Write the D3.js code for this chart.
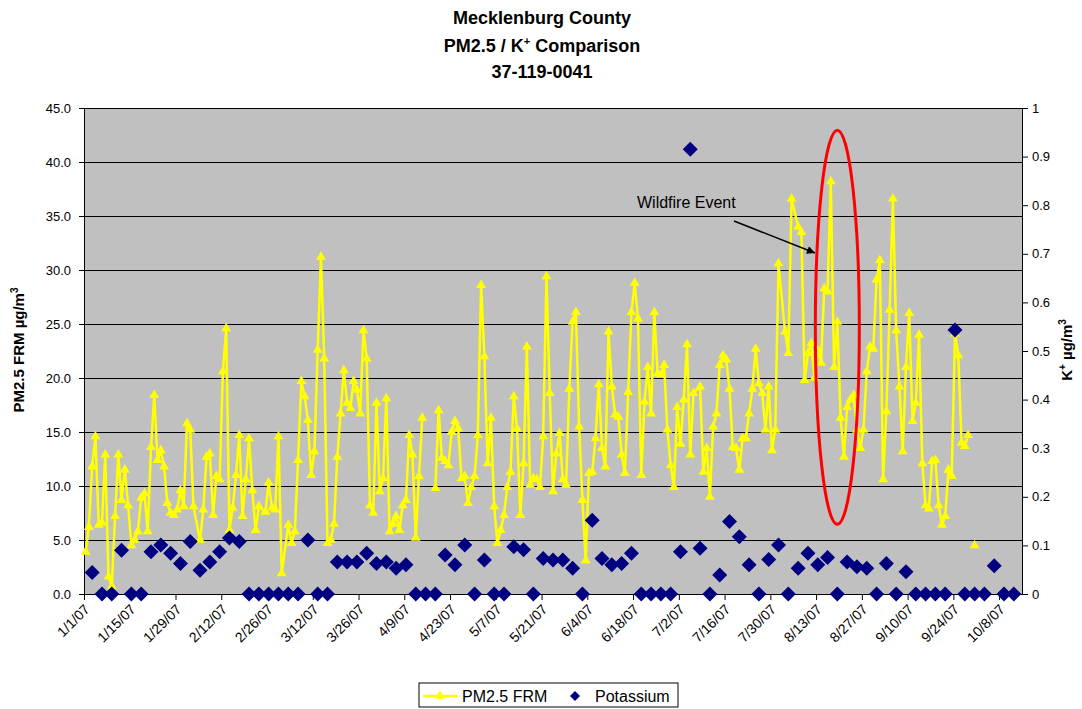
<!DOCTYPE html>
<html>
<head>
<meta charset="utf-8">
<script src="https://cdn.jsdelivr.net/npm/d3@7"></script>
<style>
  body { margin: 0; background: #fff; }
  svg text { font-family: Arial, "Liberation Sans", sans-serif; fill: #000; }
</style>
</head>
<body>
<div id="chart"></div>
<script>
// PM2.5 FRM daily values, day = days after 1/1/07 (null = blank cell, line breaks)
var pmDay = [0,1,2,3,4,5,6,7,8,9,10,11,12,13,14,15,16,17,18,19,20,21,22,23,24,25,26,27,28,29,
    30,31,32,33,35,36,37,38,39,40,41,42,43,44,45,46,47,48,49,50,51,52,53,55,56,57,58,59,60,
    62,63,64,65,66,67,68,69,70,71,72,73,74,75,76,77,78,79,80,81,82,83,84,85,86,87,88,89,90,
    91,92,93,94,95,96,97,98,99,100,101,102,103,104,107,108,109,110,111,112,113,114,115,116,
    117,118,119,120,121,122,123,124,125,126,127,128,129,130,131,132,133,134,135,136,137,138,
    139,140,141,142,143,144,145,146,147,148,149,150,151,152,153,154,155,156,157,158,159,160,
    161,162,163,164,165,166,167,168,169,170,171,172,173,174,175,176,177,178,179,180,181,182,
    183,184,185,186,188,189,190,191,192,193,194,195,196,197,198,199,200,201,202,203,204,205,
    206,207,208,209,210,211,212,214,215,216,218,219,220,221,222,223,224,225,226,227,228,229,
    230,231,232,233,234,235,236,237,238,239,240,241,242,243,244,245,246,247,248,249,250,251,
    252,253,254,255,256,257,258,259,260,261,262,263,264,265,266,267,268,269,270,271,272];
var pmValue = [3.9,6.2,11.8,14.6,6.4,6.6,12.9,1.6,0.7,7.2,12.9,8.7,11.5,8.2,4.5,5.0,5.8,8.9,9.3,5.8,
    13.6,18.4,12.4,13.3,11.8,8.4,7.5,7.3,7.8,9.6,8.1,15.8,15.2,8.1,5.0,7.8,12.7,13.0,7.3,10.9,
    10.6,20.6,24.6,5.9,8.0,11.0,14.7,7.2,10.6,14.4,9.6,5.9,8.1,7.6,10.3,8.0,7.8,14.6,1.9,
    6.4,4.7,5.8,12.4,19.7,18.3,16.1,11.0,13.2,22.6,31.2,21.8,4.7,5.0,6.5,12.7,16.7,20.7,17.7,
    17.2,19.7,18.9,16.7,24.4,21.8,8.2,7.5,17.7,9.5,10.7,18.1,5.8,6.5,7.2,5.9,8.2,8.7,14.7,12.9,
    5.2,10.9,16.3,null,9.8,17.0,12.6,12.3,11.9,15.0,16.0,15.3,10.7,10.9,8.4,9.9,10.9,14.7,28.6,
    22.0,12.1,16.3,8.1,4.7,5.9,7.3,9.9,11.3,18.3,15.3,7.3,12.1,22.9,10.1,10.7,10.6,9.9,14.6,29.4,
    18.6,9.5,13.0,14.9,10.6,10.1,19.0,25.2,26.1,15.5,8.7,3.1,11.2,11.3,14.4,19.4,13.5,11.8,24.3,
    19.2,16.6,16.4,12.9,11.2,18.7,26.1,28.8,25.5,11.0,17.8,21.0,16.7,26.1,20.4,20.3,21.2,15.2,
    11.9,9.9,17.3,13.9,18.0,23.1,12.9,18.6,19.2,11.3,13.5,9.0,15.5,16.7,21.2,22.1,21.7,19.0,13.6,
    13.5,11.5,14.4,14.4,16.7,19.0,22.7,19.5,18.6,15.2,19.2,13.3,15.2,30.6,24.3,22.3,36.6,34.0,
    33.5,19.8,22.3,23.2,20.0,22.6,21.4,28.3,28.0,38.2,21.0,25.2,16.3,12.7,17.3,18.0,18.4,15.2,
    13.5,15.2,20.6,22.9,22.7,29.1,30.9,10.6,16.9,26.3,36.6,24.4,19.2,13.2,21.0,26.0,16.0,17.7,
    24.0,12.1,8.2,7.9,12.3,12.4,8.2,6.4,7.2,11.5,10.9,24.1,22.1,14.0,13.7,14.7,null,4.5];

// Potassium (1-in-3 day samples starting 1/3/07)
var kFirstDay = 2, kStep = 3;
var kValue = [0.044,0,0,0.090,0,0,0.087,0.101,0.084,0.063,0.108,0.049,0.066,0.087,0.115,0.108,
    0,0,0,0,0,0,0.111,0,0,0.066,0.066,0.066,0.084,0.063,0.066,0.053,0.060,0,0,0,0.080,0.060,
    0.101,0,0.070,0,0,0.097,0.091,0,0.073,0.070,0.070,0.053,0,0.152,0.073,0.060,0.063,0.084,
    0,0,0,0,0.087,0.915,0.094,0,0.039,0.149,0.118,0.060,0,0.071,0.101,0,0.053,0.084,0.060,
    0.075,0,0.066,0.056,0.053,0,0.063,0,0.046,0,0,0,0,0.543,0,0,0,0.058,0,0];

var xTickLabels = ["1/1/07","1/15/07","1/29/07","2/12/07","2/26/07","3/12/07","3/26/07","4/9/07",
    "4/23/07","5/7/07","5/21/07","6/4/07","6/18/07","7/2/07","7/16/07","7/30/07","8/13/07",
    "8/27/07","9/10/07","9/24/07","10/8/07"];
var leftTicks = [0,5,10,15,20,25,30,35,40,45];
var rightTicks = [0,0.1,0.2,0.3,0.4,0.5,0.6,0.7,0.8,0.9,1];

// Size settings
var W = 1082, H = 709;
var margin = { top: 108, left: 84 };
var plotW = 938, plotH = 486;

var start = Date.UTC(2007, 0, 1);
function dayDate(d) { return new Date(start + d * 864e5); }
var parseTick = d3.utcParse("%m/%d/%y");

var x = d3.scaleUtc().domain([dayDate(0), dayDate(287)]).range([0, plotW]);
function xMid(d) { return x(dayDate(d + 0.5)); }
var yL = d3.scaleLinear().domain([0, 45]).range([plotH, 0]);
var yR = d3.scaleLinear().domain([0, 1]).range([plotH, 0]);

var pmPts = pmDay.map(function(d, i) { return { day: d, v: pmValue[i] }; });
var kPts = kValue.map(function(v, i) { return { day: kFirstDay + i * kStep, v: v }; });

var svg = d3.select("#chart").append("svg")
    .attr("width", W).attr("height", H);

// Titles
var title = svg.append("g").attr("font-weight", "bold").attr("font-size", "18px")
    .attr("text-anchor", "middle");
title.append("text").attr("x", 542).attr("y", 24).text("Mecklenburg County");
var t2 = title.append("text").attr("x", 542).attr("y", 52);
t2.append("tspan").text("PM2.5 / K");
t2.append("tspan").attr("dy", -7).attr("font-size", "11px").text("+");
t2.append("tspan").attr("dy", 7).text(" Comparison");
title.append("text").attr("x", 542).attr("y", 78).text("37-119-0041");

var g = svg.append("g").attr("transform", "translate(" + margin.left + "," + margin.top + ")");

// Plot area + gridlines
g.append("rect").attr("width", plotW).attr("height", plotH).attr("fill", "#C0C0C0");
g.selectAll(".grid").data(leftTicks.filter(function(d) { return d > 0; }))
  .enter().append("line")
    .attr("x1", 0).attr("x2", plotW)
    .attr("y1", function(d) { return Math.round(yL(d)) + 0.5; })
    .attr("y2", function(d) { return Math.round(yL(d)) + 0.5; })
    .attr("stroke", "#000").attr("stroke-width", 1);

// X axis
var xAxisG = g.append("g").attr("transform", "translate(0," + plotH + ")")
    .call(d3.axisBottom(x)
        .tickValues(xTickLabels.map(function(s) { return parseTick(s); }))
        .tickFormat(function(d, i) { return xTickLabels[i]; })
        .tickSize(6).tickSizeOuter(0));
xAxisG.selectAll("text")
    .attr("x", 0).attr("y", 0).attr("dy", "0.72em")
    .attr("transform", "translate(-1,9) rotate(-45)")
    .style("text-anchor", "end").attr("font-size", "14px");

// Left axis
var yAxisL = g.append("g")
    .call(d3.axisLeft(yL).tickValues(leftTicks).tickFormat(d3.format(".1f"))
        .tickSize(5).tickPadding(8).tickSizeOuter(0));
yAxisL.selectAll("text").attr("font-size", "13px");

// Right axis
var yAxisR = g.append("g").attr("transform", "translate(" + plotW + ",0)")
    .call(d3.axisRight(yR).tickValues(rightTicks).tickFormat(function(d) { return String(+d.toFixed(1)); })
        .tickSize(6).tickPadding(4).tickSizeOuter(0));
yAxisR.selectAll("text").attr("font-size", "13px");

svg.selectAll(".domain, .tick line").attr("stroke", "#000");

// Axis titles
var lt = svg.append("text").attr("transform", "translate(24,350) rotate(-90)")
    .attr("text-anchor", "middle").attr("font-weight", "bold").attr("font-size", "15px");
lt.append("tspan").text("PM2.5 FRM \u00b5g/m");
lt.append("tspan").attr("dy", -6).attr("font-size", "10px").text("3");

var rt = svg.append("text").attr("transform", "translate(1072,350) rotate(-90)")
    .attr("text-anchor", "middle").attr("font-weight", "bold").attr("font-size", "15px");
rt.append("tspan").text("K");
rt.append("tspan").attr("dy", -6).attr("font-size", "10px").text("+");
rt.append("tspan").attr("dy", 6).text(" \u00b5g/m");
rt.append("tspan").attr("dy", -6).attr("font-size", "10px").text("3");

// PM2.5 line with triangle markers
var line = d3.line()
    .defined(function(d) { return d.v !== null; })
    .x(function(d) { return xMid(d.day); })
    .y(function(d) { return yL(d.v); });

g.append("path").datum(pmPts)
    .attr("d", line).attr("fill", "none")
    .attr("stroke", "#FFFF00").attr("stroke-width", 2.5).attr("stroke-linejoin", "round");

var tri = d3.symbol().type(d3.symbolTriangle).size(42);
g.selectAll(".tri").data(pmPts.filter(function(d) { return d.v !== null; }))
  .enter().append("path")
    .attr("class", "tri")
    .attr("d", tri)
    .attr("transform", function(d) { return "translate(" + xMid(d.day) + "," + yL(d.v) + ")"; })
    .attr("fill", "#FFFF00");

// Potassium diamonds (secondary axis)
var dia = "M0,-7.5L7.5,0L0,7.5L-7.5,0Z";
g.selectAll(".dia").data(kPts)
  .enter().append("path")
    .attr("class", "dia")
    .attr("d", dia)
    .attr("transform", function(d) { return "translate(" + xMid(d.day) + "," + yR(d.v) + ")"; })
    .attr("fill", "#000080");

// Wildfire annotation
g.append("ellipse")
    .attr("cx", xMid(230)).attr("cy", yL(24.7))
    .attr("rx", 22).attr("ry", 197)
    .attr("fill", "none").attr("stroke", "#FF0000").attr("stroke-width", 3);

svg.append("defs").append("marker")
    .attr("id", "arrow").attr("viewBox", "0 0 10 10")
    .attr("refX", 10).attr("refY", 5)
    .attr("markerWidth", 10).attr("markerHeight", 8).attr("markerUnits", "userSpaceOnUse")
    .attr("orient", "auto")
  .append("path").attr("d", "M0,0L10,5L0,10Z").attr("fill", "#000");

svg.append("line")
    .attr("x1", 734).attr("y1", 221).attr("x2", 815).attr("y2", 253)
    .attr("stroke", "#000").attr("stroke-width", 1.5)
    .attr("marker-end", "url(#arrow)");
svg.append("text").attr("x", 637).attr("y", 208).attr("font-size", "16px").text("Wildfire Event");

// Legend
var lg = svg.append("g").attr("transform", "translate(419,683)");
lg.append("rect").attr("width", 259).attr("height", 24)
    .attr("fill", "#fff").attr("stroke", "#000").attr("stroke-width", 1);
lg.append("line").attr("x1", 4).attr("x2", 39).attr("y1", 13).attr("y2", 13)
    .attr("stroke", "#FFFF00").attr("stroke-width", 2.5);
lg.append("path").attr("d", tri).attr("transform", "translate(21,13)").attr("fill", "#FFFF00");
lg.append("text").attr("x", 43).attr("y", 19).attr("font-size", "16px").text("PM2.5 FRM");
lg.append("path").attr("d", "M0,-5L5,0L0,5L-5,0Z").attr("transform", "translate(156,13)").attr("fill", "#000080");
lg.append("text").attr("x", 176).attr("y", 19).attr("font-size", "16px").text("Potassium");
</script>
</body>
</html>
